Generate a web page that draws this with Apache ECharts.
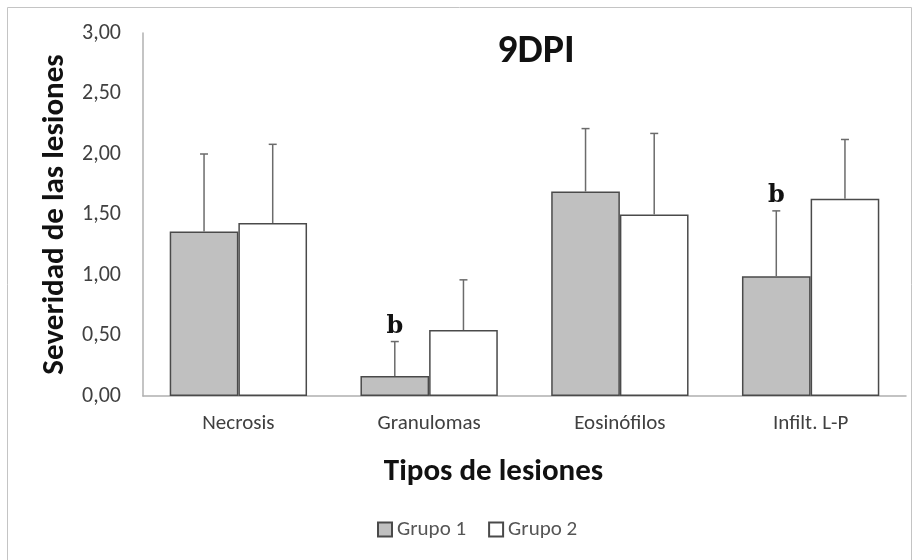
<!DOCTYPE html>
<html>
<head>
<meta charset="utf-8">
<script src="https://cdn.jsdelivr.net/npm/echarts@6.0.0/dist/echarts.min.js"></script>
</head>
<body style="margin:0; padding:0; background:#fff;">
<div id="chart" style="width: 918px; height: 560px;"></div>
<script type="text/javascript">
// datos
var categorias = ['Necrosis', 'Granulomas', 'Eosinófilos', 'Infilt. L-P'];
var grupo1 = [1.36, 0.165, 1.69, 0.99];
var grupo2 = [1.43, 0.545, 1.50, 1.63];
var de1 = [0.64, 0.285, 0.52, 0.54];
var de2 = [0.65, 0.415, 0.67, 0.49];
var letras1 = ['', 'b', '', 'b'];
var letras2 = ['', '', '', ''];

var fuente = 'Carlito, "Open Sans", "Noto Sans", sans-serif';

function errorBars(medias, de, letras) {
	return medias.map(function (m, i) { return [i, m, de[i], letras[i]]; });
}

function dibujarError(signo) {
	return function (params, api) {
		var i = api.value(0);
		var m = api.value(1);
		var sd = api.value(2);
		var base = api.coord([i, m]);
		var top = api.coord([i, m + sd]);
		var band = api.size([1, 0])[0];
		var cx = base[0] + signo * band * 0.18;
		var estilo = { stroke: '#6b6b6b', lineWidth: 1.5 };
		var hijos = [
			{ type: 'line', shape: { x1: cx, y1: base[1], x2: cx, y2: top[1] }, style: estilo },
			{ type: 'line', shape: { x1: cx - 4, y1: top[1], x2: cx + 4, y2: top[1] }, style: estilo }
		];
		var letra = (signo < 0 ? letras1 : letras2)[params.dataIndex];
		if (letra) {
			hijos.push({
				type: 'text',
				style: {
					x: cx, y: top[1] - 3, text: letra,
					fill: '#111', font: 'bold 24px "DejaVu Serif", "Liberation Serif", serif',
					align: 'center', verticalAlign: 'bottom'
				}
			});
		}
		return { type: 'group', children: hijos };
	};
}

var option = {
	backgroundColor: '#fff',
	textStyle: { fontFamily: fuente },
	title: {
		text: '9DPI',
		left: 531,
		top: 27,
		textAlign: 'center',
		textStyle: { fontSize: 40, fontWeight: 'bold', color: '#111', fontFamily: fuente }
	},
	graphic: [{
		type: 'rect',
		shape: { x: 7.5, y: 7.5, width: 904, height: 560 },
		style: { fill: 'none', stroke: '#c4c4c4', lineWidth: 1 },
		silent: true
	}],
	legend: {
		bottom: 15,
		left: 372,
		itemWidth: 14,
		itemHeight: 14,
		itemGap: 22,
		icon: 'rect',
		textStyle: { fontSize: 21, color: '#555', fontFamily: fuente },
		data: ['Grupo 1', 'Grupo 2']
	},
	grid: { left: 143, right: 12, top: 33, bottom: 164 },
	xAxis: {
		type: 'category',
		data: categorias,
		name: 'Tipos de lesiones',
		nameLocation: 'middle',
		nameGap: 61,
		nameTextStyle: { fontSize: 31, fontWeight: 'bold', color: '#111', fontFamily: fuente, padding: [0, 62, 0, 0] },
		axisLine: { lineStyle: { color: '#b0b0b0', width: 1.5 } },
		axisTick: { show: false },
		axisLabel: { fontSize: 21, color: '#404040', margin: 17 }
	},
	yAxis: {
		type: 'value',
		min: 0,
		max: 3,
		interval: 0.5,
		name: 'Severidad de las lesiones',
		nameLocation: 'middle',
		nameGap: 68,
		nameTextStyle: { fontSize: 31, fontWeight: 'bold', color: '#111', fontFamily: fuente },
		axisLine: { show: true, lineStyle: { color: '#b0b0b0', width: 1.5 } },
		axisTick: { show: false },
		splitLine: { show: false },
		axisLabel: {
			fontSize: 22, color: '#404040', margin: 22,
			formatter: function (v) { return v.toFixed(2).replace('.', ','); }
		}
	},
	series: [{
		name: 'Grupo 1',
		type: 'bar',
		data: grupo1,
		barGap: '0%',
		barCategoryGap: '28%',
		itemStyle: { color: '#c0c0c0', borderColor: '#4a4a4a', borderWidth: 1.5 }
	}, {
		name: 'Grupo 2',
		type: 'bar',
		data: grupo2,
		itemStyle: { color: '#ffffff', borderColor: '#4a4a4a', borderWidth: 1.5 }
	}, {
		type: 'custom',
		renderItem: dibujarError(-1),
		data: errorBars(grupo1, de1, letras1),
		encode: { x: 0, y: 1 },
		z: 5
	}, {
		type: 'custom',
		renderItem: dibujarError(1),
		data: errorBars(grupo2, de2, letras2),
		encode: { x: 0, y: 1 },
		z: 5
	}]
};

var myChart = echarts.init(document.getElementById('chart'));
myChart.setOption(option);
</script>
</body>
</html>
